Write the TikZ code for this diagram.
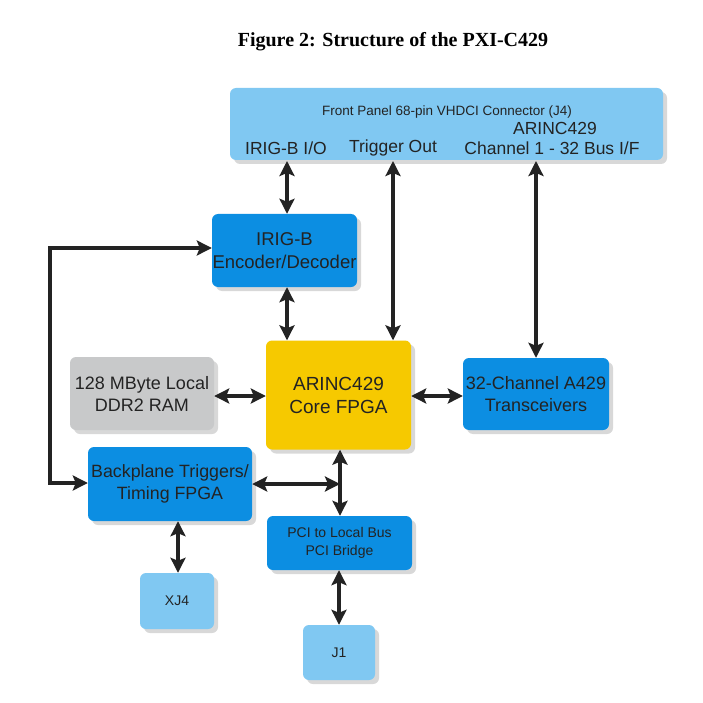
\documentclass[tikz,border=0pt]{standalone}
\usepackage{fontspec}
\setmainfont{Liberation Sans}
\newfontfamily\titlefont{Liberation Serif}
\usetikzlibrary{arrows.meta,shadows}
\definecolor{lblue}{RGB}{128,200,242}
\definecolor{mblue}{RGB}{12,142,226}
\definecolor{fyellow}{RGB}{246,201,0}
\definecolor{lgray}{RGB}{200,201,202}
\definecolor{ink}{RGB}{35,35,35}
\tikzset{
  blk/.style={rounded corners=6pt, inner sep=0pt, align=center, text=ink,
    drop shadow={opacity=0.3, shadow xshift=4pt, shadow yshift=-4pt}},
  tip/.tip={Stealth[length=15pt,width=15pt,inset=3pt]},
  conn/.style={draw=ink, line width=4pt, tip-tip},
}
\begin{document}
\begin{tikzpicture}[x=1pt,y=-1pt]
\useasboundingbox (0,0) rectangle (703,703);
\fill[white] (0,0) rectangle (703,703);
\node[font=\titlefont\bfseries\fontsize{20}{24}\selectfont] (title) at (393,42) {Figure 2: Structure of the PXI-C429};

% boxes
\node[blk, fill=lblue, minimum width=433pt, minimum height=72pt] (fp) at (446.5,124) {};
\node[font=\fontsize{13.5}{16}\selectfont, text=ink] (fph) at (447,112) {Front Panel 68-pin VHDCI Connector (J4)};
\node[font=\fontsize{17.5}{20}\selectfont, text=ink] (irigio) at (286,148) {IRIG-B I/O};
\node[font=\fontsize{17.5}{20}\selectfont, text=ink] (trig) at (393,148) {Trigger Out};
\node[font=\fontsize{17.5}{20}\selectfont, text=ink] (arinc) at (555,128) {ARINC429};
\node[font=\fontsize{17.5}{20}\selectfont, text=ink] (chan) at (552,148) {Channel 1 - 32 Bus I/F};

\node[blk, fill=mblue, minimum width=145pt, minimum height=73pt, font=\fontsize{18.5}{23}\selectfont] (irig) at (284.5,250.5) {IRIG-B\\Encoder/Decoder};
\node[blk, fill=fyellow, minimum width=145pt, minimum height=109pt, font=\fontsize{19}{23}\selectfont] (core) at (338.5,395) {ARINC429\\Core FPGA};
\node[blk, fill=lgray, minimum width=144pt, minimum height=73pt, font=\fontsize{18}{22}\selectfont] (ram) at (142,393.5) {128 MByte Local\\DDR2 RAM};
\node[blk, fill=mblue, minimum width=146pt, minimum height=72pt, font=\fontsize{18}{22}\selectfont] (xcv) at (536,394) {32-Channel A429\\Transceivers};
\node[blk, fill=mblue, minimum width=164pt, minimum height=74pt, font=\fontsize{17.8}{22}\selectfont] (bp) at (170,484) {Backplane Triggers/\\Timing FPGA};
\node[blk, fill=mblue, minimum width=145pt, minimum height=54pt, font=\fontsize{14}{18}\selectfont] (pci) at (339.5,543) {PCI to Local Bus\\PCI Bridge};
\node[blk, fill=lblue, minimum width=74pt, minimum height=56pt, font=\fontsize{14}{16}\selectfont] (xj4) at (177,601) {XJ4};
\node[blk, fill=lblue, minimum width=72pt, minimum height=55pt, font=\fontsize{14}{16}\selectfont] (j1) at (339,652.5) {J1};

% connectors
\coordinate (fpi) at (287,161);
\coordinate (fpt) at (393,161);
\coordinate (fpa) at (536,161);
\draw[conn] (fpi) -- (irig.north -| fpi);
\draw[conn] (fpt) -- (core.north -| fpt);
\draw[conn] (fpa) -- (xcv.north -| fpa);
\draw[conn] (irig.south -| fpi) -- (core.north -| fpi);
\draw[conn] (ram.east |- 0,396) -- (core.west |- 0,396);
\draw[conn] (core.east |- 0,396) -- (xcv.west |- 0,396);
\coordinate (cb) at (340,451);
\draw[conn] (core.south -| cb) -- (pci.north -| cb);
\coordinate (jn) at (340,484);
\draw[conn] (bp.east |- jn) -- (jn);
\draw[conn] (bp.south -| 178,0) -- (xj4.north -| 178,0);
\draw[conn] (pci.south -| 339,0) -- (j1.north -| 339,0);
\coordinate (lb) at (50,483);
\coordinate (lt) at (50,248);
\draw[conn, line join=miter] (bp.west |- lb) -- (lb) -- (lt) -- (irig.west |- lt);
\end{tikzpicture}
\end{document}
